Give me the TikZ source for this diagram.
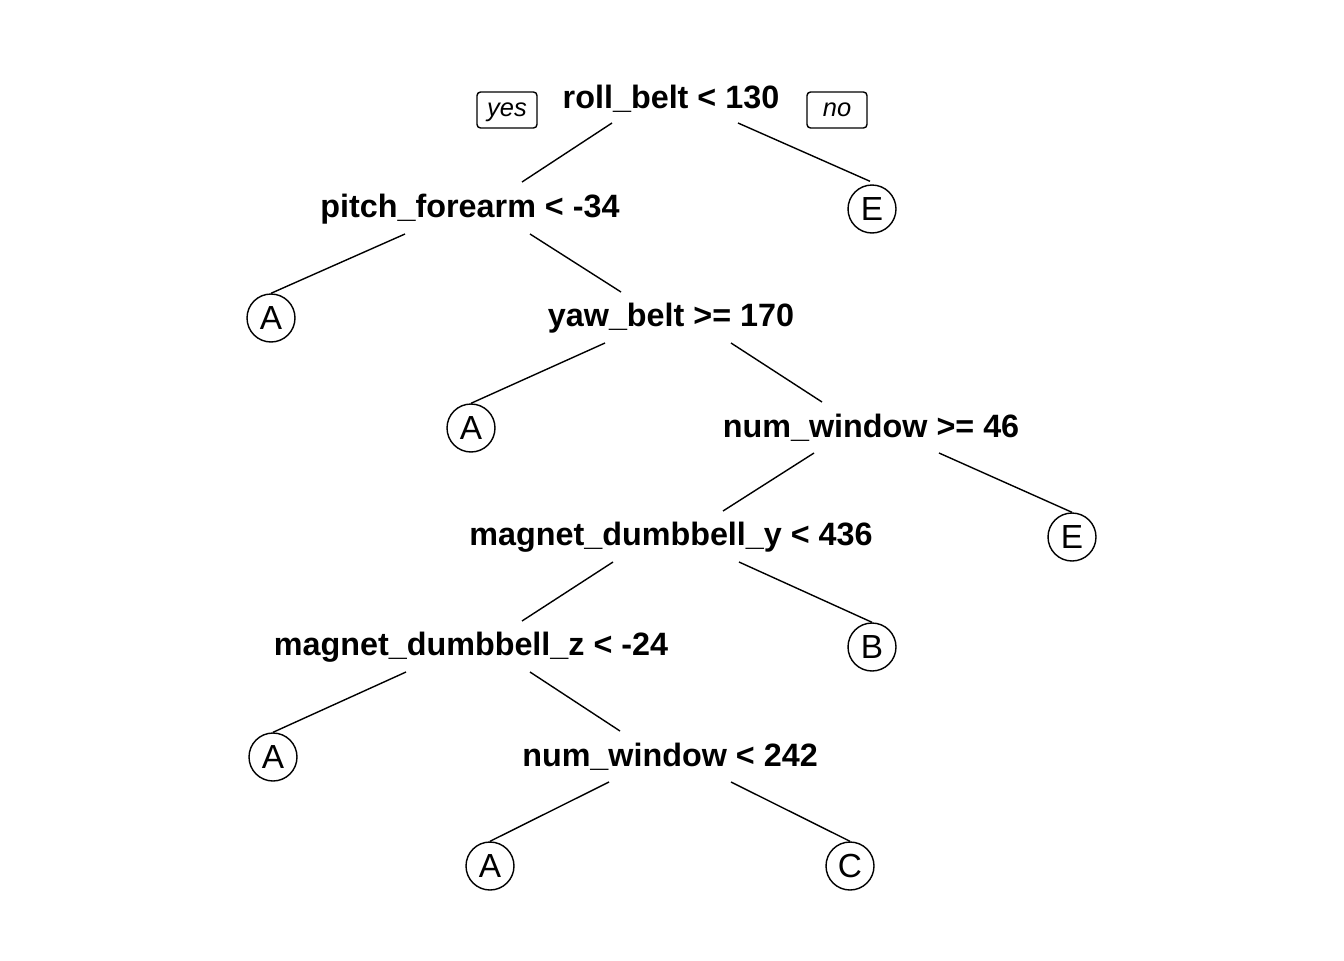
\documentclass[tikz,border=0pt]{standalone}
\usepackage{fontspec}
\setmainfont{Liberation Sans}
\newcommand{\sidetext}[1]{\raisebox{-0.14cm}[0pt][0pt]{#1}}
\tikzset{
  split/.style={font=\fontsize{18.4}{20}\selectfont\bfseries, inner sep=0pt, yshift=-0.04cm},
  leaf/.style={draw, circle, minimum size=0.96cm, inner sep=0pt, font=\fontsize{19}{21}\selectfont},
  side/.style={draw, rounded corners=2pt, minimum width=1.2cm, minimum height=0.72cm, inner sep=0pt, font=\fontsize{14.5}{16}\selectfont\itshape},
}
\begin{document}
\begin{tikzpicture}[x=0.02cm, y=-0.02cm, line width=0.8pt]
    \useasboundingbox (0,0) rectangle (1344,960);
    % splits
    \node[split] (rb)  at (671,97)  {roll\_belt < 130};
    \node[split] (pf)  at (470,207) {pitch\_forearm < -34};
    \node[split] (yb)  at (671,316) {yaw\_belt >= 170};
    \node[split] (nwa) at (871,426) {num\_window >= 46};
    \node[split] (mdy) at (671,535) {magnet\_dumbbell\_y < 436};
    \node[split] (mdz) at (471,645) {magnet\_dumbbell\_z < -24};
    \node[split] (nwb) at (670,755) {num\_window < 242};
    % leaves
    \node[leaf] (e1) at (872,209) {E};
    \node[leaf] (a1) at (271,318) {A};
    \node[leaf] (a2) at (471,428) {A};
    \node[leaf] (e2) at (1072,537) {E};
    \node[leaf] (b1) at (872,647) {B};
    \node[leaf] (a3) at (273,757) {A};
    \node[leaf] (a4) at (490,866) {A};
    \node[leaf] (c1) at (850,866) {C};
    % yes / no
    \node[side] (yes) at (507,110) {\sidetext{yes}};
    \node[side] (no)  at (837,110) {\sidetext{no}};
    % branches
    \draw ([shift={(-59,24)}]rb.center) -- ([shift={(52,-27)}]pf.center);
    \draw ([shift={(67,24)}]rb.center) -- ([shift={(-2,-3)}]e1.north);
    \draw ([shift={(-65,25)}]pf.center) -- (a1.north);
    \draw ([shift={(60,25)}]pf.center) -- ([shift={(-50,-26)}]yb.center);
    \draw ([shift={(-66,25)}]yb.center) -- (a2.north);
    \draw ([shift={(60,25)}]yb.center) -- ([shift={(-49,-26)}]nwa.center);
    \draw ([shift={(-57,25)}]nwa.center) -- ([shift={(52,-26)}]mdy.center);
    \draw ([shift={(68,25)}]nwa.center) -- (e2.north);
    \draw ([shift={(-58,25)}]mdy.center) -- ([shift={(51,-26)}]mdz.center);
    \draw ([shift={(68,25)}]mdy.center) -- (b1.north);
    \draw ([shift={(-65,25)}]mdz.center) -- (a3.north);
    \draw ([shift={(59,25)}]mdz.center) -- ([shift={(-50,-26)}]nwb.center);
    \draw ([shift={(-61,25)}]nwb.center) -- (a4.north);
    \draw ([shift={(61,25)}]nwb.center) -- (c1.north);
\end{tikzpicture}
\end{document}
